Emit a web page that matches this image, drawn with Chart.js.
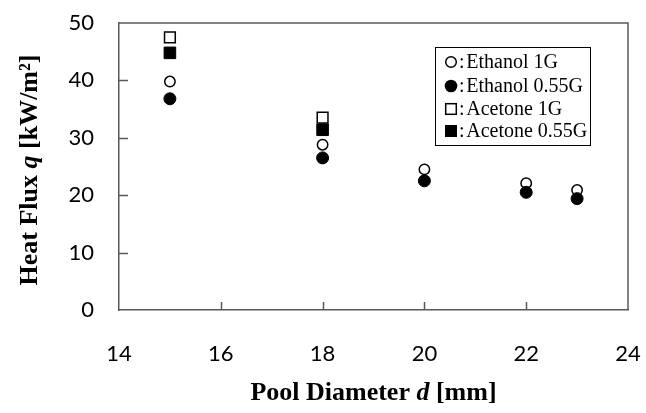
<!DOCTYPE html>
<html>
<head>
<meta charset="utf-8">
<script src="https://cdn.jsdelivr.net/npm/chart.js@4/dist/chart.umd.min.js"></script>
<style>
    html, body { margin: 0; padding: 0; background: #fff; }
    #wrap { width: 646px; height: 413px; position: relative; }
</style>
</head>
<body>
<div id="wrap"><canvas id="flux-chart"></canvas></div>
<script>
// Diámetros de pileta (mm) y flujo de calor (kW/m²)
const diamEthanol = [15, 18, 20, 22, 23];
const ethanol1G = [39.8, 28.8, 24.5, 22.1, 20.9];
const ethanol055G = [36.8, 26.5, 22.5, 20.5, 19.4];

const diamAcetone = [15, 18];
const acetone1G = [47.5, 33.5];
const acetone055G = [44.8, 31.4];

const xTicks = [14, 16, 18, 20, 22, 24];
const yTicks = [0, 10, 20, 30, 40, 50];

const legendLabels = ['Ethanol 1G', 'Ethanol 0.55G', 'Acetone 1G', 'Acetone 0.55G'];

const AXIS_COLOR = '#595959';
const SERIF = "'Liberation Serif', 'Times New Roman', serif";
const SANS = "Lato, 'Open Sans', sans-serif";

const toPoints = (xs, ys) => xs.map((x, i) => ({ x, y: ys[i] }));

// Texto con partes de distinta fuente (para la q y la d en cursiva)
function drawRich(c, parts, cx, cy, angle) {
    c.save();
    c.translate(cx, cy);
    c.rotate(angle);
    c.textBaseline = 'middle';
    c.textAlign = 'left';
    let total = 0;
    parts.forEach(p => { c.font = p.font; total += c.measureText(p.text).width; });
    let x = -total / 2;
    parts.forEach(p => {
        c.font = p.font;
        c.fillStyle = '#000';
        c.fillText(p.text, x, 0);
        x += c.measureText(p.text).width;
    });
    c.restore();
}

// Marco completo, ticks hacia adentro, títulos y leyenda con recuadro
const framePlugin = {
    id: 'frame',
    afterDraw: (chart) => {
        const { ctx: c, chartArea: a, scales: { x, y } } = chart;
        c.save();
        c.strokeStyle = AXIS_COLOR;
        c.lineWidth = 1.5;
        c.beginPath();
        c.moveTo(a.left, a.top);
        c.lineTo(a.right, a.top);
        c.lineTo(a.right, a.bottom);
        c.stroke();

        c.beginPath();
        yTicks.slice(1, -1).forEach(v => {
            const py = Math.round(y.getPixelForValue(v)) + 0.5;
            c.moveTo(a.left, py);
            c.lineTo(a.left + 9, py);
        });
        xTicks.slice(1, -1).forEach(v => {
            const px = Math.round(x.getPixelForValue(v)) + 0.5;
            c.moveTo(px, a.bottom);
            c.lineTo(px, a.bottom - 8);
        });
        c.stroke();
        c.restore();

        const bold = `bold 26px ${SERIF}`;
        const boldIt = `bold italic 26px ${SERIF}`;
        drawRich(c, [
            { text: 'Pool Diameter ', font: bold },
            { text: 'd', font: boldIt },
            { text: ' [mm]', font: bold },
        ], (a.left + a.right) / 2, 393, 0);
        drawRich(c, [
            { text: 'Heat Flux ', font: bold },
            { text: 'q', font: boldIt },
            { text: ' [kW/m²]', font: bold },
        ], 30, 170, -Math.PI / 2);

        // Leyenda
        const box = { left: 435, top: 47, right: 590, bottom: 145 };
        c.save();
        c.strokeStyle = '#000';
        c.lineWidth = 1;
        c.strokeRect(box.left + 0.5, box.top + 0.5, box.right - box.left, box.bottom - box.top);
        const rows = [62, 86, 109, 131];
        const mx = 451;
        legendLabels.forEach((label, i) => {
            const ry = rows[i];
            c.lineWidth = 1.5;
            c.strokeStyle = '#000';
            c.fillStyle = '#000';
            c.beginPath();
            if (i < 2) {
                c.arc(mx, ry, i === 0 ? 5.3 : 6.3, 0, Math.PI * 2);
                if (i === 0) c.stroke(); else c.fill();
            } else if (i === 2) {
                c.strokeRect(mx - 5.3, ry - 5.3, 10.6, 10.6);
            } else {
                c.fillRect(mx - 6, ry - 6, 12, 12);
            }
            c.font = `20px ${SERIF}`;
            c.textBaseline = 'middle';
            c.textAlign = 'left';
            c.fillText(':\u200a' + label, 459, ry + 1);
        });
        c.restore();
    },
};

const ctx = document.getElementById('flux-chart').getContext('2d');

new Chart(ctx, {
    type: 'scatter',
    data: {
        datasets: [
            {
                label: legendLabels[0],
                data: toPoints(diamEthanol, ethanol1G),
                pointStyle: 'circle',
                pointRadius: 5.2,
                pointBackgroundColor: '#fff',
                pointBorderColor: '#000',
                pointBorderWidth: 1.5,
                order: 4,
            },
            {
                label: legendLabels[1],
                data: toPoints(diamEthanol, ethanol055G),
                pointStyle: 'circle',
                pointRadius: 6,
                pointBackgroundColor: '#000',
                pointBorderColor: '#000',
                pointBorderWidth: 1,
                order: 3,
            },
            {
                label: legendLabels[2],
                data: toPoints(diamAcetone, acetone1G),
                pointStyle: 'rect',
                pointRadius: 7.6,
                pointBackgroundColor: '#fff',
                pointBorderColor: '#000',
                pointBorderWidth: 1.5,
                order: 2,
            },
            {
                label: legendLabels[3],
                data: toPoints(diamAcetone, acetone055G),
                pointStyle: 'rect',
                pointRadius: 8.2,
                pointBackgroundColor: '#000',
                pointBorderColor: '#000',
                pointBorderWidth: 1,
                order: 1,
            },
        ],
    },
    options: {
        responsive: true,
        maintainAspectRatio: false,
        animation: false,
        layout: { padding: { top: 23, right: 18, left: 0, bottom: 0 } },
        plugins: {
            legend: { display: false },
            tooltip: { enabled: false },
        },
        scales: {
            x: {
                type: 'linear',
                min: 14,
                max: 24,
                afterFit: (s) => { s.height = 103; s.paddingLeft = 0; s.paddingRight = 0; },
                afterBuildTicks: (s) => { s.ticks = xTicks.map(v => ({ value: v })); },
                grid: { display: false },
                border: { display: true, color: AXIS_COLOR, width: 1.5 },
                ticks: {
                    padding: 23,
                    font: { family: SANS, size: 22 },
                    color: '#000',
                },
            },
            y: {
                min: 0,
                max: 50,
                afterFit: (s) => { s.width = 119; s.paddingTop = 0; s.paddingBottom = 0; },
                afterBuildTicks: (s) => { s.ticks = yTicks.map(v => ({ value: v })); },
                grid: { display: false },
                border: { display: true, color: AXIS_COLOR, width: 1.5 },
                ticks: {
                    padding: 17,
                    font: { family: SANS, size: 22 },
                    color: '#000',
                },
            },
        },
    },
    plugins: [framePlugin],
});
</script>
</body>
</html>
